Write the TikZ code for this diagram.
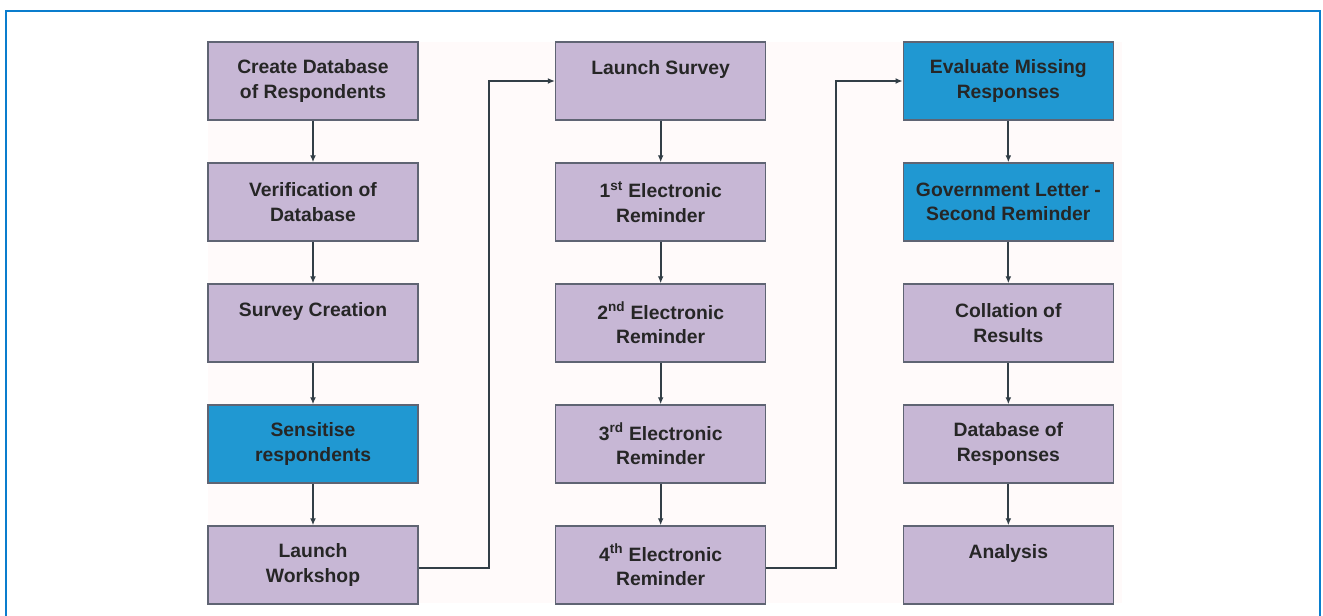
\documentclass[tikz,border=0pt]{standalone}
\usepackage{fontspec}
\setmainfont{Liberation Sans}
\usetikzlibrary{arrows.meta}

\definecolor{lavender}{RGB}{199,183,213}
\definecolor{stepblue}{RGB}{32,152,210}
\definecolor{framecol}{RGB}{10,125,205}
\definecolor{edgecol}{RGB}{95,100,115}
\definecolor{linkcol}{RGB}{50,62,70}

\begin{document}
\begin{tikzpicture}[
    stepbox/.style={draw=edgecol, line width=1.2pt, fill=lavender, minimum width=\boxw, minimum height=\boxh,
        align=center, inner sep=2pt, text=black!85, font=\fontsize{16.5}{21}\selectfont\bfseries},
    bluebox/.style={stepbox, fill=stepblue},
    link/.style={draw=linkcol, line width=1.9pt, -{Latex[length=6pt,width=5pt]}}
]
    %--------------------%
    % Parameters
    %--------------------%
    \def\colsep{10.43}
    \def\rowsep{3.63}
    \def\boxw{6.3cm}
    \def\boxh{2.34cm}
    \def\xzero{9.39}
    \def\yzero{-2.43}
    \def\elbow{2.1}

    %--------------------%
    % Frame
    %--------------------%
    \useasboundingbox (0,0) rectangle (39.69,-18.48);
    \fill[white] (0,0) rectangle (39.69,-18.48);
    \draw[framecol, line width=1.6pt] (0.17,-18.48) -- (0.17,-0.33) -- (39.6,-0.33) -- (39.6,-18.48);
    \fill[red!2!white] (6.24,-1.26) rectangle (33.66,-18.09);

    %--------------------%
    % Column 1
    %--------------------%
    \node[stepbox] (create) at (\xzero,\yzero) {Create Database\\of Respondents};
    \node[stepbox] (verify) at (\xzero,\yzero-1*\rowsep) {Verification of\\Database};
    \node[stepbox] (creation) at (\xzero,\yzero-2*\rowsep) {Survey Creation\\[-4pt]\strut};
    \node[bluebox] (sensitise) at (\xzero,\yzero-3*\rowsep) {Sensitise\\respondents};
    \node[stepbox] (workshop) at (\xzero,\yzero-4*\rowsep) {Launch\\Workshop};

    %--------------------%
    % Column 2
    %--------------------%
    \node[stepbox] (survey) at (\xzero+\colsep,\yzero) {Launch Survey\\[-4pt]\strut};
    \node[stepbox] (remone) at (\xzero+\colsep,\yzero-1*\rowsep) {1\textsuperscript{st} Electronic\\Reminder};
    \node[stepbox] (remtwo) at (\xzero+\colsep,\yzero-2*\rowsep) {2\textsuperscript{nd} Electronic\\Reminder};
    \node[stepbox] (remthree) at (\xzero+\colsep,\yzero-3*\rowsep) {3\textsuperscript{rd} Electronic\\Reminder};
    \node[stepbox] (remfour) at (\xzero+\colsep,\yzero-4*\rowsep) {4\textsuperscript{th} Electronic\\Reminder};

    %--------------------%
    % Column 3
    %--------------------%
    \node[bluebox] (missing) at (\xzero+2*\colsep,\yzero) {Evaluate Missing\\Responses};
    \node[bluebox] (letter) at (\xzero+2*\colsep,\yzero-1*\rowsep) {Government Letter -\\Second Reminder};
    \node[stepbox] (collate) at (\xzero+2*\colsep,\yzero-2*\rowsep) {Collation of\\Results};
    \node[stepbox] (responses) at (\xzero+2*\colsep,\yzero-3*\rowsep) {Database of\\Responses};
    \node[stepbox] (analysis) at (\xzero+2*\colsep,\yzero-4*\rowsep) {Analysis\\[-4pt]\strut};

    %--------------------%
    % Connections
    %--------------------%
    \draw[link] (create) -- (verify);
    \draw[link] (verify) -- (creation);
    \draw[link] (creation) -- (sensitise);
    \draw[link] (sensitise) -- (workshop);
    \draw[link] ([yshift=-0.09cm]workshop.east) -- ++(\elbow,0) |- (survey.west);

    \draw[link] (survey) -- (remone);
    \draw[link] (remone) -- (remtwo);
    \draw[link] (remtwo) -- (remthree);
    \draw[link] (remthree) -- (remfour);
    \draw[link] ([yshift=-0.09cm]remfour.east) -- ++(\elbow,0) |- (missing.west);

    \draw[link] (missing) -- (letter);
    \draw[link] (letter) -- (collate);
    \draw[link] (collate) -- (responses);
    \draw[link] (responses) -- (analysis);

\end{tikzpicture}
\end{document}
